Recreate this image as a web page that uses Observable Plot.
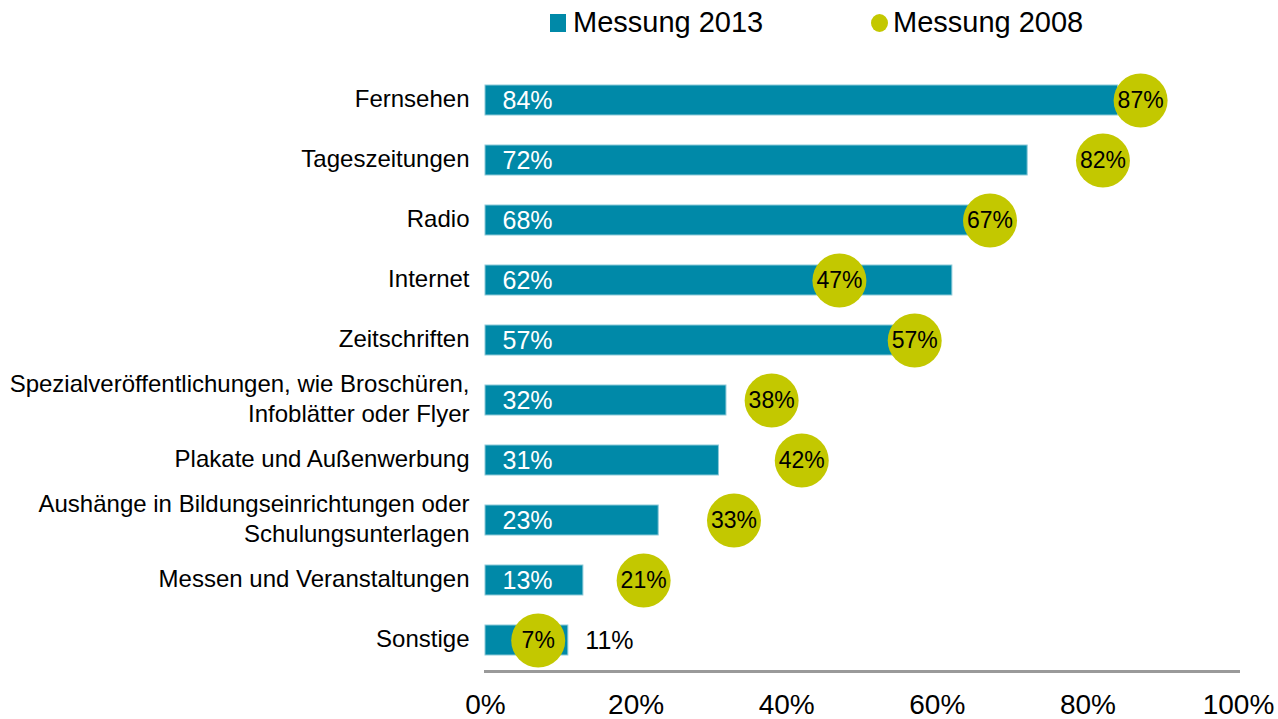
<!DOCTYPE html>
<html>
<head>
<meta charset="utf-8">
<script src="https://cdn.jsdelivr.net/npm/d3@7"></script>
<script src="https://cdn.jsdelivr.net/npm/@observablehq/plot@0.6"></script>
<style>
  html, body { margin: 0; padding: 0; background: #fff; }
  body { width: 1278px; height: 719px; overflow: hidden; font-family: "Liberation Sans", Arial, sans-serif; }
  #legend { position: relative; height: 48px; width: 1278px; }
  .lg-item { position: absolute; top: 5px; font-size: 29px; color: #000; line-height: 34px; white-space: nowrap; }
  .sw { position: absolute; }
  #chart svg { display: block; overflow: visible; }
</style>
</head>
<body>
<div id="legend"></div>
<div id="chart"></div>
<script>
const categories = [
  "Fernsehen",
  "Tageszeitungen",
  "Radio",
  "Internet",
  "Zeitschriften",
  "Spezialveröffentlichungen, wie Broschüren, Infoblätter oder Flyer",
  "Plakate und Außenwerbung",
  "Aushänge in Bildungseinrichtungen oder Schulungsunterlagen",
  "Messen und Veranstaltungen",
  "Sonstige"
];
const categoryLabels = [
  "Fernsehen",
  "Tageszeitungen",
  "Radio",
  "Internet",
  "Zeitschriften",
  "Spezialveröffentlichungen, wie Broschüren,\nInfoblätter oder Flyer",
  "Plakate und Außenwerbung",
  "Aushänge in Bildungseinrichtungen oder\nSchulungsunterlagen",
  "Messen und Veranstaltungen",
  "Sonstige"
];
const messung2013 = [84, 72, 68, 62, 57, 32, 31, 23, 13, 11];
const messung2008 = [87, 82, 67, 47, 57, 38, 42, 33, 21, 7];
const xTicks = [0, 20, 40, 60, 80, 100];
const seriesNames = ["Messung 2013", "Messung 2008"];

const colorBar = "#0089a8";
const colorDot = "#c3c800";

const data = categories.map((c, i) => ({
  category: c,
  label: categoryLabels[i],
  v2013: messung2013[i],
  v2008: messung2008[i],
  outside: messung2008[i] < 12
}));

// Legend
const legend = document.getElementById("legend");
legend.innerHTML = `
  <div class="sw" style="left:550px;top:14px;width:16px;height:18px;background:${colorBar}"></div>
  <div class="lg-item" style="left:573px">${seriesNames[0]}</div>
  <div class="sw" style="left:871px;top:14px;width:17px;height:18px;border-radius:50%;background:${colorDot}"></div>
  <div class="lg-item" style="left:893px">${seriesNames[1]}</div>
`;

const chart = Plot.plot({
  width: 1278,
  height: 671,
  marginLeft: 485,
  marginRight: 40,
  marginTop: 20,
  marginBottom: 48,
  style: { fontFamily: "'Liberation Sans', Arial, sans-serif", background: "transparent", overflow: "visible" },
  x: { domain: [0, 100], axis: null },
  y: { domain: categories, paddingInner: 0.5, paddingOuter: 0.25, axis: null },
  marks: [
    Plot.barX(data, { y: "category", x1: 0, x2: "v2013", fill: colorBar, stroke: "#8cc9d8", strokeWidth: 1 }),
    Plot.frame({ anchor: "bottom", stroke: "#9a9a9a", strokeWidth: 3 }),
    Plot.axisX({ ticks: xTicks, tickFormat: d => d + "%", tickSize: 0, tickPadding: 23, fontSize: 28, color: "#000", anchor: "bottom" }),
    Plot.text(data, { y: "category", x: 0, text: "label", textAnchor: "end", dx: -16, dy: -3, fontSize: 24, lineHeight: 1.25, fill: "#000" }),
    Plot.text(data.filter(d => !d.outside), { y: "category", x: 0, text: d => d.v2013 + "%", textAnchor: "start", dx: 17, fontSize: 25, fill: "#fff" }),
    Plot.text(data.filter(d => d.outside), { y: "category", x: "v2013", text: d => d.v2013 + "%", textAnchor: "start", dx: 17, fontSize: 25, fill: "#000" }),
    Plot.dot(data, { y: "category", x: "v2008", r: 27, fill: colorDot, stroke: "none" }),
    Plot.text(data, { y: "category", x: "v2008", text: d => d.v2008 + "%", fontSize: 23, fill: "#000" })
  ]
});
document.getElementById("chart").appendChild(chart);
</script>
</body>
</html>
